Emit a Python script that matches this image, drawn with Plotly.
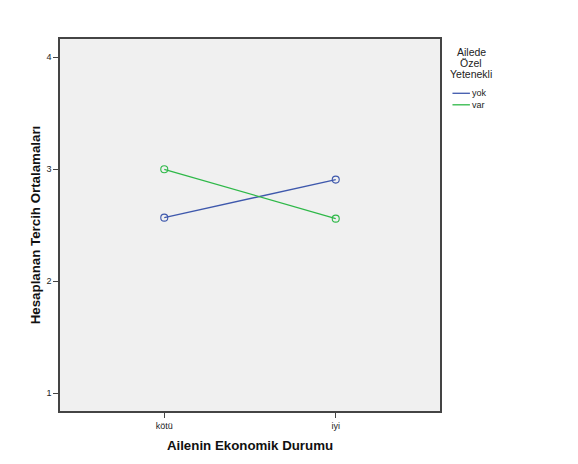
import plotly.graph_objects as go

categories = ["kötü", "iyi"]
yok_values = [2.568, 2.908]
var_values = [3.0, 2.559]
series_names = ["yok", "var"]
legend_title = ["Ailede", "Özel", "Yetenekli"]
y_ticks = [1, 2, 3, 4]

OFF = 8  # default page body margin
W, H = 578 - OFF, 464 - OFF
L, R, T, B = 59.5 - OFF, 137.5, 39.3 - OFF, 53.3
pw, ph = W - L - R, H - T - B

def px(x):
    return (x - OFF - L) / pw

def py(y):
    return 1 - (y - OFF - T) / ph

blue = "#3E58AC"
green = "#2EB848"

fig = go.Figure()
for name, vals, col in [(series_names[0], yok_values, blue), (series_names[1], var_values, green)]:
    fig.add_trace(go.Scatter(
        x=[0, 1], y=vals, mode="lines+markers", name=name,
        line=dict(color=col, width=1.3),
        marker=dict(symbol="circle-open", size=7, color=col, line=dict(width=1.1)),
        showlegend=False,
    ))

font_fam = "Liberation Sans, Arial, sans-serif"
fig.update_layout(
    width=W, height=H,
    margin=dict(l=L, r=R, t=T, b=B, pad=0),
    paper_bgcolor="white", plot_bgcolor="#F0F0F0",
    font=dict(family=font_fam, color="#222"),
    xaxis=dict(
        range=[-0.608, 1.608], tickvals=[0, 1], ticktext=categories,
        showgrid=False, zeroline=False, showline=True, mirror=True,
        linecolor="#444", linewidth=1.5, ticks="outside", ticklen=5,
        tickcolor="#444", tickfont=dict(size=9, color="#222"),
        title=dict(text="<b>Ailenin Ekonomik Durumu</b>", font=dict(size=13.3, color="#111"), standoff=11),
    ),
    yaxis=dict(
        range=[0.842, 4.163], tickvals=y_ticks,
        showgrid=False, zeroline=False, showline=True, mirror=True,
        linecolor="#444", linewidth=1.5, ticks="outside", ticklen=5,
        tickcolor="#444", tickfont=dict(size=9, color="#222"),
        title=dict(text="<b>Hesaplanan Tercih Ortalamaları</b>", font=dict(size=13.3, color="#111"), standoff=3),
    ),
)

# legend title
for i, txt in enumerate(legend_title):
    fig.add_annotation(x=px(471.7), y=py(52.7 + i * 10.8), xref="paper", yref="paper",
                       text=txt, showarrow=False, xanchor="center", yanchor="middle",
                       font=dict(size=10.5, color="#222"))

# legend items
for i, (name, col) in enumerate([(series_names[0], blue), (series_names[1], green)]):
    yy = 93.5 + i * 11.5
    fig.add_shape(type="line", xref="paper", yref="paper",
                  x0=px(453), x1=px(470.5), y0=py(yy), y1=py(yy),
                  line=dict(color=col, width=1.3))
    fig.add_annotation(x=px(470.5), y=py(yy), xref="paper", yref="paper",
                       text=name, showarrow=False, xanchor="left", yanchor="middle",
                       font=dict(size=9, color="#222"))

fig.write_html("out.html")
